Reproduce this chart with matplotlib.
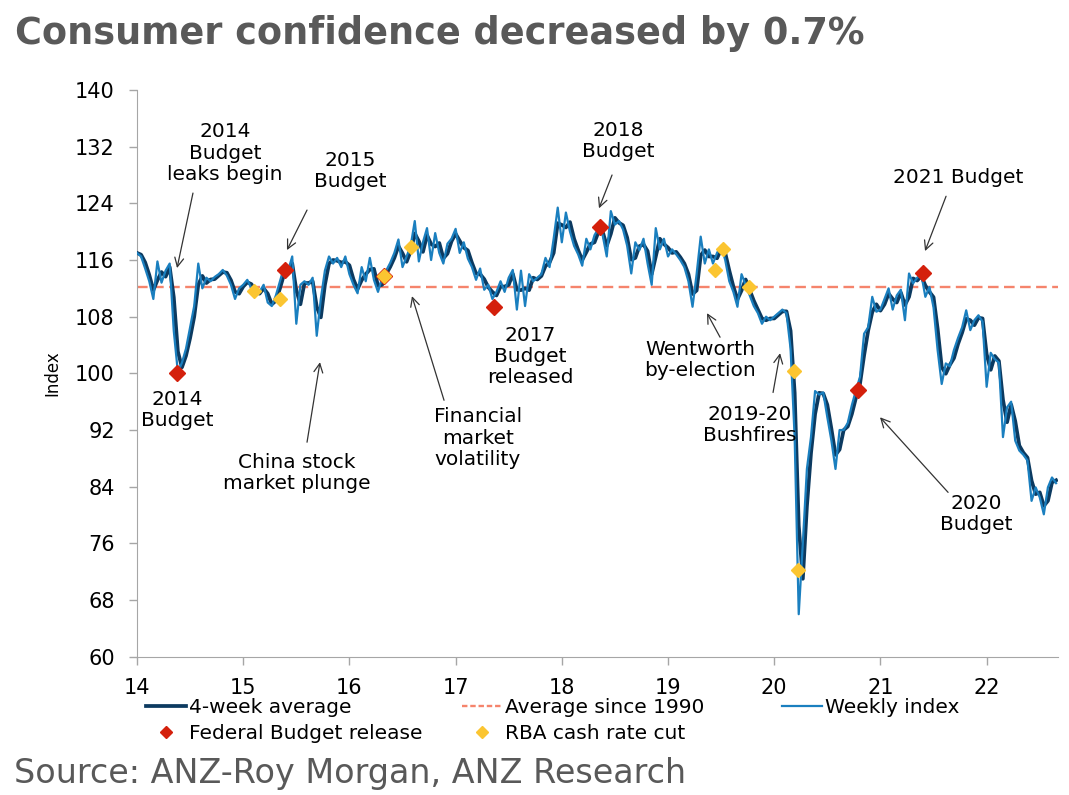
import numpy as np
import pandas as pd
import matplotlib
matplotlib.use("Agg")
import matplotlib.pyplot as plt
from matplotlib.lines import Line2D

# Weekly consumer confidence index (one value per 2 weeks)
w2014 = [117.0, 116.5, 114.8, 113.0, 110.5, 115.8, 112.8, 114.5, 115.5, 106.0,
         100.2, 101.5, 103.5, 106.5, 109.5, 115.5, 112.0, 113.5, 113.0, 113.6,
         114.0, 114.6, 113.8, 112.5, 110.5, 112.0]
w2015 = [112.5, 113.2, 112.0, 111.0, 111.5, 112.5, 110.0, 109.5, 111.0, 113.0,
         115.0, 114.5, 116.5, 107.0, 112.5, 113.0, 112.5, 113.5, 105.3, 110.5,
         114.5, 116.5, 115.5, 116.3, 115.0, 116.5]
w2016 = [114.0, 112.5, 111.3, 115.0, 113.0, 116.3, 113.2, 111.5, 113.5, 114.5,
         115.6, 117.0, 118.9, 115.0, 116.5, 118.0, 121.5, 115.8, 118.5, 120.5,
         116.0, 119.8, 117.0, 115.5, 118.3, 119.0]
w2017 = [120.4, 117.0, 118.5, 116.2, 115.0, 113.2, 114.8, 111.8, 112.5, 110.5,
         111.5, 113.0, 111.5, 113.5, 114.6, 109.0, 114.5, 109.5, 114.0, 113.0,
         113.5, 114.0, 116.3, 115.0, 119.0, 123.4]
w2018 = [118.5, 122.7, 120.0, 118.0, 116.8, 115.2, 119.0, 117.5, 119.5, 120.5,
         119.5, 116.5, 122.9, 121.0, 121.5, 120.3, 118.0, 114.1, 118.5, 117.4,
         119.0, 115.5, 112.5, 120.5, 117.5, 119.0]
w2019 = [116.5, 117.5, 116.8, 116.0, 115.0, 113.0, 109.4, 114.0, 119.3, 115.5,
         117.5, 115.5, 117.0, 118.0, 116.0, 113.0, 111.5, 109.4, 114.0, 112.5,
         111.0, 109.5, 108.5, 107.0, 108.0, 107.5]
w2020 = [108.0, 108.5, 109.0, 108.5, 103.5, 91.0, 66.0, 76.0, 86.5, 91.0,
         97.5, 97.0, 97.3, 93.8, 90.5, 86.5, 92.0, 92.0, 93.0, 95.5,
         97.6, 99.5, 105.6, 106.5, 110.8, 108.7]
w2021 = [109.0, 110.5, 112.0, 109.0, 111.0, 111.8, 107.5, 114.1, 112.7, 113.5,
         114.0, 110.8, 112.2, 109.3, 103.3, 98.5, 101.4, 101.0, 103.3, 105.0,
         106.5, 108.9, 106.1, 107.5, 108.2, 107.3]
w2022 = [98.1, 102.9, 102.0, 101.5, 91.0, 95.2, 96.0, 90.5, 89.1, 88.5,
         87.7, 82.0, 83.9, 82.5, 80.1, 83.9, 85.3, 84.5]

weekly = w2014 + w2015 + w2016 + w2017 + w2018 + w2019 + w2020 + w2021 + w2022
years = 14 + np.arange(len(weekly)) * 2 / 52
avg4 = pd.Series(weekly).rolling(2, min_periods=1).mean()

avg_since_1990 = 112.2

budget_x = [14.377, 15.394, 16.326, 17.36, 18.36, 20.79, 21.40]
budget_y = [100.0, 114.6, 113.7, 109.35, 120.65, 97.6, 114.15]
rba_x = [15.10, 15.347, 16.326, 16.58, 19.443, 19.518, 19.763, 20.186, 20.224]
rba_y = [111.6, 110.5, 113.7, 117.8, 114.6, 117.5, 112.2, 100.3, 72.2]

c_weekly = "#1a7fbf"
c_avg = "#0c3a60"
c_dash = "#f5846c"
c_red = "#d4200c"
c_yel = "#fbc531"
grey = "#595959"

plt.rcParams['font.family'] = ['DejaVu Sans']

fig = plt.figure(figsize=(10.69, 7.95), dpi=100)
ax = fig.add_axes([137/1069, 1 - 656.7/795, (1058 - 137)/1069, (656.7 - 90)/795])

ax.plot(years, avg4, color=c_avg, lw=2.7, zorder=3)
ax.plot(years, weekly, color=c_weekly, lw=1.6, zorder=4)
ax.axhline(avg_since_1990, color=c_dash, lw=1.7, dashes=(4.5, 2.3), zorder=2)
ax.plot(budget_x, budget_y, 'D', color=c_red, ms=8, mec=c_red, ls='none', zorder=5)
ax.plot(rba_x, rba_y, 'D', color=c_yel, ms=7, mec=c_yel, ls='none', zorder=6)

ax.set_xlim(14, 22.672)
ax.set_ylim(60, 140)
ax.set_yticks(np.arange(60, 141, 8))
ax.set_xticks(range(14, 23))
ax.set_xticklabels([str(v) for v in range(14, 23)])
for s in ['top', 'right']:
    ax.spines[s].set_visible(False)
for s in ['left', 'bottom']:
    ax.spines[s].set_color('#a6a6a6')
ax.tick_params(axis='both', colors='#a6a6a6', labelcolor='black', labelsize=15,
               length=6, width=1)
ax.tick_params(axis='y', pad=10)
ax.tick_params(axis='x', pad=9)
ax.set_ylabel('Index', fontsize=12, labelpad=10)

# annotations: (text, text pos, arrow tail, arrow tip)
notes = [
    ("2014\nBudget\nleaks begin", (14.829, 131.1), (14.527, 125.45), (14.377, 114.86)),
    ("2015\nBudget", (16.006, 128.56), (15.601, 123.05), (15.412, 117.4)),
    ("2014\nBudget", (14.377, 94.8), None, None),
    ("China stock\nmarket plunge", (15.507, 85.9), (15.601, 90.28), (15.723, 101.58)),
    ("Financial\nmarket\nvolatility", (17.211, 90.85), (16.891, 96.2), (16.589, 110.9)),
    ("2017\nBudget\nreleased", (17.70, 102.4), None, None),
    ("2018\nBudget", (18.529, 132.8), (18.473, 128.0), (18.35, 123.3)),
    ("Wentworth\nby-election", (19.30, 101.9), (19.49, 105.1), (19.367, 108.5)),
    ("2019-20\nBushfires", (19.772, 92.7), (19.989, 97.3), (20.055, 102.85)),
    ("2020\nBudget", (21.90, 80.1), (21.637, 83.2), (20.996, 93.8)),
    ("2021 Budget", (21.73, 127.6), (21.618, 125.0), (21.42, 117.26)),
]
for label, tpos, tail, tip in notes:
    ax.text(tpos[0], tpos[1], label, ha='center', va='center', fontsize=14.5,
            linespacing=1.15, zorder=7)
    if tail is not None:
        ax.annotate('', xy=tip, xytext=tail,
                    arrowprops=dict(arrowstyle='->', color='#333333', lw=0.9,
                                    shrinkA=0, shrinkB=0, mutation_scale=16))

fig.text(15/1069, 1 - 33/795, "Consumer confidence decreased by 0.7%",
         fontsize=26.4, fontweight='bold', color=grey, ha='left', va='center')
fig.text(14/1069, 1 - 773/795, "Source: ANZ-Roy Morgan, ANZ Research",
         fontsize=24, color=grey, ha='left', va='center')

leg_kw = dict(frameon=False, fontsize=14.5, handlelength=2.0, handletextpad=0.15,
              labelspacing=0.33, borderpad=0, borderaxespad=0, loc='upper left')
h_avg = Line2D([], [], color=c_avg, lw=2.7)
h_bud = Line2D([], [], marker='D', color=c_red, ls='none', ms=6)
h_dash = Line2D([], [], color=c_dash, lw=1.7, dashes=(2.3, 1.2))
h_rba = Line2D([], [], marker='D', color=c_yel, ls='none', ms=6)
h_wk = Line2D([], [], color=c_weekly, lw=1.6)
fig.legend([h_avg, h_bud], ["4-week average", "Federal Budget release"],
           bbox_to_anchor=(146/1069, 1 - 698/795), **leg_kw)
fig.legend([h_dash, h_rba], ["Average since 1990", "RBA cash rate cut"],
           bbox_to_anchor=(462/1069, 1 - 698/795), **leg_kw)
fig.legend([h_wk], ["Weekly index"],
           bbox_to_anchor=(782/1069, 1 - 698/795), **leg_kw)

fig.savefig("out.png", dpi=100)
